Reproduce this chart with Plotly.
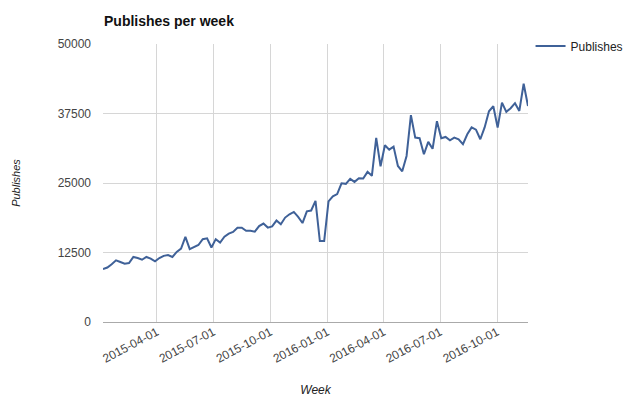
import plotly.graph_objects as go
import pandas as pd

# Weekly publishes
publishes = [
    9500, 9800, 10400, 11100, 10800, 10500, 10600, 11700, 11500, 11200,
    11700, 11400, 10900, 11500, 11900, 12050, 11700, 12600, 13200, 15300,
    13100, 13500, 13850, 14900, 15050, 13400, 14900, 14300, 15350, 15900,
    16200, 16950, 16950, 16400, 16400, 16250, 17250, 17700, 16980, 17200,
    18250, 17580, 18780, 19380, 19790, 18890, 17800, 19900, 20050, 21770,
    14570, 14570, 21700, 22600, 23000, 24950, 24850, 25750, 25200, 25850,
    25800, 27000, 26300, 33100, 28000, 31800, 31000, 31550, 28060, 27100,
    29860, 37200, 33170, 33050, 30170, 32400, 31150, 36100, 33050, 33280,
    32690, 33170, 32870, 32000, 33770, 35000, 34600, 32870, 35000, 37900,
    38800, 34970, 39470, 37800, 38450, 39350, 37960, 42850, 38860,
]
start_week = "2015-01-04"
weeks = pd.date_range(start=start_week, periods=len(publishes), freq="7D")

x_tick_dates = ["2015-04-01", "2015-07-01", "2015-10-01", "2016-01-01",
                "2016-04-01", "2016-07-01", "2016-10-01"]
y_ticks = [0, 12500, 25000, 37500, 50000]

line_color = "#3f6198"
font_family = "Liberation Sans, Arial, sans-serif"

# the page body adds an 8px offset; the figure is sized to fit inside the window
W, H = 624, 391

fig = go.Figure()
fig.add_trace(go.Scatter(
    x=weeks, y=publishes, mode="lines", name="Publishes",
    line=dict(color=line_color, width=2),
))

fig.update_layout(
    width=W, height=H,
    margin=dict(l=95, r=104, t=36, b=77, autoexpand=False),
    paper_bgcolor="white", plot_bgcolor="white",
    font=dict(family=font_family, size=12, color="#333"),
    title=dict(text="<b>Publishes per week</b>", x=96 / W, xanchor="left",
               xref="container", y=1 - 13 / H, yanchor="middle", yref="container",
               font=dict(size=14, color="#111")),
    showlegend=True,
    legend=dict(x=1.006, xanchor="left", y=1.045, yanchor="top",
                font=dict(size=12, color="#222"), bgcolor="rgba(0,0,0,0)",
                itemwidth=30, tracegroupgap=0),
)

fig.update_xaxes(
    range=[weeks[0], weeks[-1]],
    tickvals=x_tick_dates, ticktext=x_tick_dates,
    tickangle=-28, showgrid=True, gridcolor="#d6d6d6", gridwidth=1,
    zeroline=False, showline=False, ticks="",
    tickfont=dict(size=12, color="#444"),
    title=dict(text="<i>Week</i>", font=dict(size=12, color="#222"), standoff=20),
)
fig.update_yaxes(
    range=[0, 50000], tickvals=y_ticks, ticktext=[str(v) for v in y_ticks],
    showgrid=True, gridcolor="#d6d6d6", gridwidth=1,
    zeroline=True, zerolinecolor="#aaaaaa", zerolinewidth=1,
    showline=False, ticks="", ticklabelstandoff=11,
    tickfont=dict(size=12, color="#444"),
    title=dict(text="<i>Publishes</i>", font=dict(size=11, color="#222"), standoff=34),
)

fig.write_html("out.html")
